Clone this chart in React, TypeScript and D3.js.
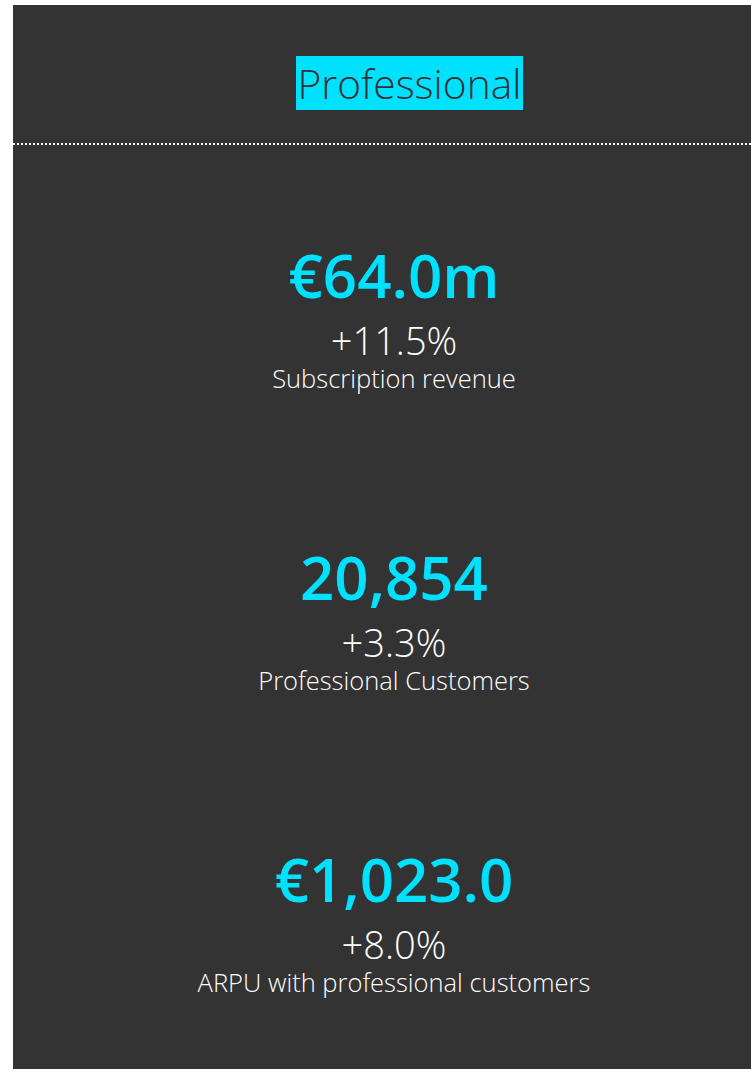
import React from "react";
import * as d3 from "d3";

const title = "Professional";
const kpiValues = ["€64.0m", "20,854", "€1,023.0"];
const kpiChanges = ["+11.5%", "+3.3%", "+8.0%"];
const kpiLabels = ["Subscription revenue", "Professional Customers", "ARPU with professional customers"];

const W = 751;
const H = 1073;

export default function App() {
  const y = d3.scaleBand<number>().domain(d3.range(kpiValues.length)).range([149, 1055]);
  const cx = 394;
  const font = "'Open Sans', sans-serif";
  return (
    <svg width={W} height={H} style={{ position: "absolute", left: 0, top: 0 }}>
      <rect x={0} y={0} width={W} height={H} fill="#ffffff" />
      <rect x={13} y={5} width={W - 13} height={1064} fill="#333333" />
      <rect x={296} y={56} width={227} height={54} fill="#00E1FF" />
      <text x={409.5} y={99} textAnchor="middle" fontFamily="'Open Sans', sans-serif" fontWeight={300} fontSize={40} fill="#333333" textLength={224} lengthAdjust="spacingAndGlyphs">{title}</text>
      <line x1={13} x2={W} y1={144} y2={144} stroke="#ffffff" strokeWidth={2} strokeDasharray="2,2" />
      {kpiValues.map((v, i) => {
        const top = y(i)!;
        return (
          <g key={i}>
            <text x={cx} y={top + 149} textAnchor="middle" fontFamily={font} fontWeight={600} fontSize={60} fill="#00E1FF">{v}</text>
            <text x={cx} y={top + 206} textAnchor="middle" fontFamily={font} fontWeight={300} fontSize={38} fill="#ffffff">{kpiChanges[i]}</text>
            <text x={cx} y={top + 239} textAnchor="middle" fontFamily={font} fontWeight={300} fontSize={25.5} fill="#ffffff">{kpiLabels[i]}</text>
          </g>
        );
      })}
    </svg>
  );
}
